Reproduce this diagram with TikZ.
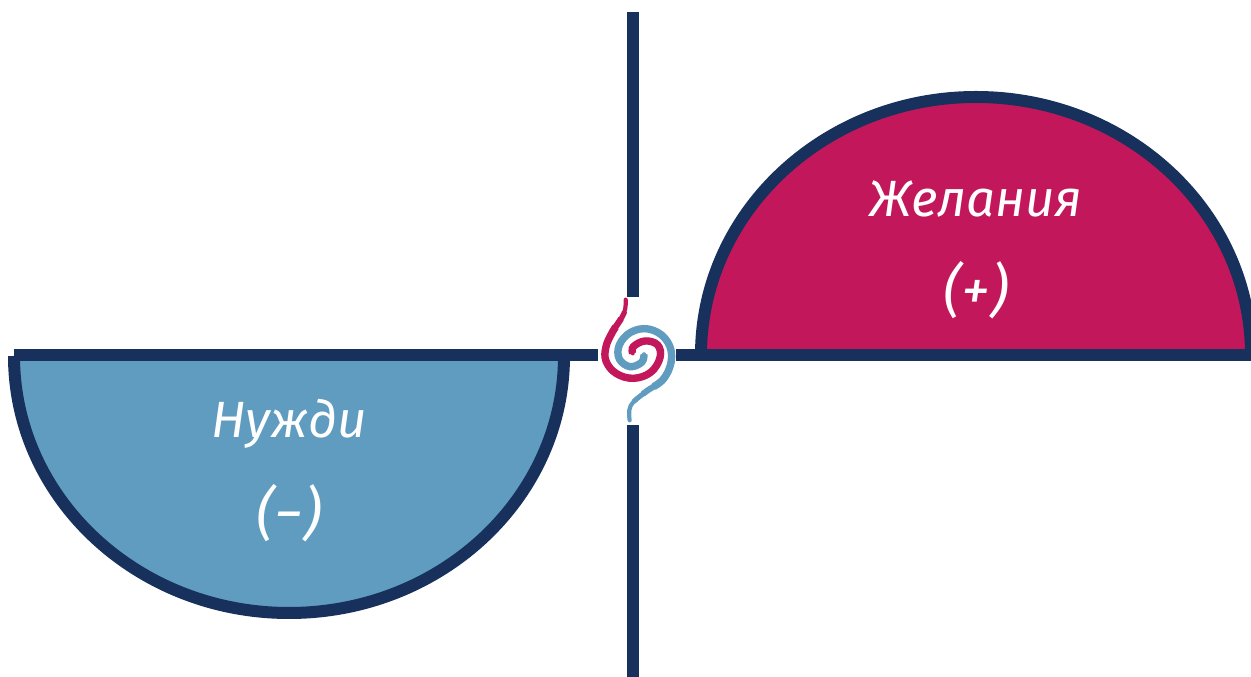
\documentclass[tikz,border=0pt]{standalone}
\usepackage{fontspec}
\setmainfont{Fira Sans}
\definecolor{navy}{HTML}{17305C}
\definecolor{crim}{HTML}{C2185B}
\definecolor{sky}{HTML}{609CBF}
\tikzset{
  axis/.style={draw=navy,line width=11.5pt},
  bowl/.style={draw=navy,line width=12pt},
  lbl/.style={text=white,inner sep=0pt,font=\itshape\fontsize{51}{54}\selectfont},
  sign/.style={text=white,inner sep=0pt,font=\itshape\fontsize{58}{60}\selectfont},
  tail/.style={line width=4.2pt,line cap=round,line join=round},
  swell/.style 2 args={line width=#1pt,line cap=butt,dash pattern=on 0pt off #2pt on 900pt}
}
\newcommand{\bluecurve}{plot[smooth,tension=0.65] coordinates {(119,406) (122,362) (165,322) (222,280) (245,215) (225,160) (175,132) (122,142) (88,180) (88,222) (120,245) (155,232) (162,208)}}
\newcommand{\redcurve}{plot[smooth,tension=0.65] coordinates {(107,44) (102,85) (68,140) (48,185) (48,228) (78,265) (130,280) (182,262) (210,218) (203,180) (165,168) (130,185) (128,205)}}
\begin{document}
\begin{tikzpicture}[x=1pt,y=1pt]
\useasboundingbox (0,0) rectangle (1251,677);
% half discs
\path[fill=sky] (14,322) arc[start angle=180,end angle=360,x radius=275,y radius=258] -- cycle;
\path[fill=crim] (701,322) arc[start angle=180,end angle=0,x radius=275,y radius=258] -- cycle;
\draw[bowl] (14,321) arc[start angle=180,end angle=360,x radius=275,y radius=257];
\draw[bowl] (701,322) arc[start angle=180,end angle=0,x radius=275,y radius=258];
% axes
\coordinate (leftA) at (14,322);
\coordinate (leftB) at (598,322);
\coordinate (rightA) at (676,322);
\coordinate (rightB) at (1251,322);
\coordinate (topA) at (633,665);
\coordinate (topB) at (633,380);
\coordinate (botA) at (633,252);
\coordinate (botB) at (633,0);
\draw[axis] (leftA) -- (leftB);
\draw[axis] (rightA) -- (rightB);
\draw[axis] (topA) -- (topB);
\draw[axis] (botA) -- (botB);
% spiral, in coordinates of the 3x crop
\begin{scope}[shift={(590,392)},x=0.3333pt,y=-0.3333pt]
\draw[sky,tail] \bluecurve;
\draw[sky,swell={5}{20}] \bluecurve;
\draw[sky,swell={6}{32}] \bluecurve;
\draw[sky,swell={7.4}{45}] \bluecurve;
\draw[crim,tail] \redcurve;
\draw[crim,swell={5.2}{12}] \redcurve;
\draw[crim,swell={6.2}{20}] \redcurve;
\draw[crim,swell={7.4}{30}] \redcurve;
\end{scope}
% labels
\node[lbl] (wants) at (976,478) {Желания};
\node[sign] (plus) at (976,387) {(+)};
\node[lbl] (needs) at (289,253) {Нужди};
\node[sign] (minus) at (289,164) {(−)};
\end{tikzpicture}
\end{document}
